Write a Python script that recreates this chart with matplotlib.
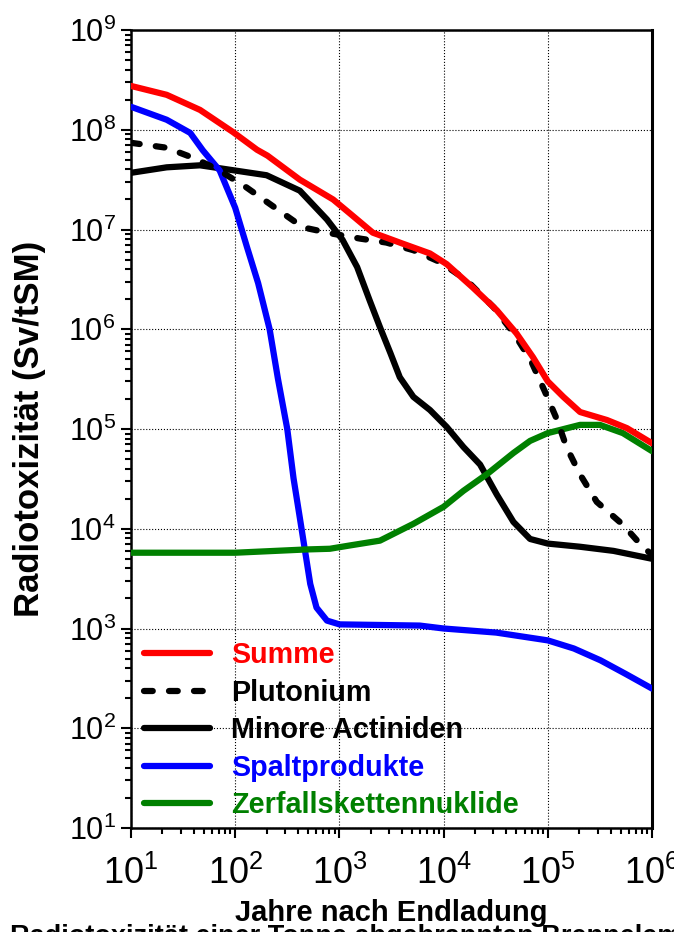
import matplotlib
matplotlib.use("Agg")
import matplotlib.pyplot as plt
from matplotlib import font_manager
from matplotlib.ticker import LogLocator, NullFormatter, FuncFormatter
import numpy as np

# Jahre nach Endladung / Radiotoxizität in Sv pro Tonne Schwermetall
summe_x = [10, 22, 46, 95, 162, 204, 417, 870, 1260, 2090, 4070, 7400, 1.07e4, 1.9e4, 3.24e4,
           5.0e4, 7.2e4, 1e5, 1.41e5, 2.04e5, 3.7e5, 5.75e5, 1e6]
summe_y = [2.75e8, 2.24e8, 1.58e8, 9.5e7, 6.3e7, 5.5e7, 3.16e7, 2.0e7, 1.45e7, 9.3e6, 7.2e6, 5.75e6, 4.5e6, 2.63e6, 1.55e6,
           9.1e5, 5.25e5, 3.0e5, 2.1e5, 1.48e5, 1.23e5, 1.02e5, 7.2e4]

pu_x = [10, 22, 40, 68, 129, 240, 447, 850, 1585, 2820, 5130, 9330, 1.66e4, 3.02e4, 4.79e4,
        6.92e4, 9.33e4, 1.23e5, 1.51e5, 2.04e5, 2.95e5, 5.25e5, 8.13e5, 1e6]
pu_y = [7.4e7, 6.6e7, 5.2e7, 4.0e7, 2.63e7, 1.66e7, 1.05e7, 9.1e6, 8.1e6, 7.4e6, 6.2e6, 4.7e6, 3.1e6, 1.66e6, 8.9e5,
        4.8e5, 2.4e5, 1.23e5, 6.6e4, 3.5e4, 1.86e4, 1.1e4, 6.6e3, 5.5e3]

ma_x = [10, 22, 46, 100, 200, 417, 760, 1070, 1480, 1950, 2450, 3090, 3800, 5130, 7400, 1.07e4,
        1.55e4, 2.24e4, 3.24e4, 4.68e4, 6.76e4, 1e5, 2.04e5, 4.27e5, 1e6]
ma_y = [3.7e7, 4.2e7, 4.4e7, 3.9e7, 3.5e7, 2.45e7, 1.26e7, 7.9e6, 4.2e6, 1.95e6, 1.05e6, 5.75e5, 3.3e5, 2.1e5, 1.55e5, 1.05e5,
        6.6e4, 4.4e4, 2.2e4, 1.17e4, 7.9e3, 7.1e3, 6.6e3, 6.0e3, 5.0e3]

sp_x = [10, 22, 37, 49, 71, 100, 129, 166, 214, 257, 316, 363, 417, 468, 525, 603, 760, 1000,
        5900, 1e4, 3.2e4, 1e5, 1.78e5, 3.2e5, 5.6e5, 1e6]
sp_y = [1.7e8, 1.26e8, 9.3e7, 6.2e7, 3.9e7, 1.65e7, 6.8e6, 2.9e6, 1.0e6, 3.2e5, 1.0e5, 3.2e4, 1.29e4, 6.0e3, 2.8e3, 1.62e3, 1.2e3, 1.1e3,
        1.07e3, 1.0e3, 9.1e2, 7.6e2, 6.3e2, 4.8e2, 3.5e2, 2.5e2]

zk_x = [10, 100, 480, 810, 1260, 2450, 5130, 1e4, 1.55e4, 2.63e4, 4.68e4, 6.76e4, 1e5, 2.04e5, 3.16e5, 5.25e5, 1e6]
zk_y = [5.75e3, 5.75e3, 6.2e3, 6.3e3, 6.8e3, 7.6e3, 1.12e4, 1.66e4, 2.4e4, 3.55e4, 5.75e4, 7.6e4, 9.1e4, 1.1e5, 1.1e5, 9.1e4, 6.0e4]

labels = ["Summe", "Plutonium", "Minore Actiniden", "Spaltprodukte", "Zerfallskettennuklide"]
colors = ["#ff0000", "black", "black", "#0000ff", "#008000"]

installed = {f.name for f in font_manager.fontManager.ttflist}
narrow = ["Liberation Sans Narrow", "Liberation Sans"] if "Liberation Sans Narrow" in installed else ["Liberation Sans"]

plt.rcParams["font.family"] = ["Liberation Sans", "DejaVu Sans"]
plt.rcParams["mathtext.default"] = "regular"

fig = plt.figure(figsize=(6.74, 9.32), dpi=100)
ax = fig.add_axes([131 / 674, 1 - 828 / 932, 521 / 674, 798 / 932])

lw = 4.5
style = dict(lw=lw, solid_capstyle="round", solid_joinstyle="round")
ax.plot(summe_x, summe_y, color=colors[0], label=labels[0], zorder=5, **style)
ax.plot(pu_x, pu_y, color=colors[1], lw=lw, linestyle=(0, (1.4, 2.6)), dash_capstyle="round",
        dash_joinstyle="round", label=labels[1], zorder=4)
ax.plot(ma_x, ma_y, color=colors[2], label=labels[2], zorder=3, **style)
ax.plot(sp_x, sp_y, color=colors[3], label=labels[3], zorder=3, **style)
ax.plot(zk_x, zk_y, color=colors[4], label=labels[4], zorder=3, **style)

ax.set_xscale("log")
ax.set_yscale("log")
ax.set_xlim(10, 1e6)
ax.set_ylim(10, 1e9)

ax.xaxis.set_major_locator(LogLocator(base=10, numticks=20))
ax.yaxis.set_major_locator(LogLocator(base=10, numticks=20))
ax.xaxis.set_minor_locator(LogLocator(base=10, subs=np.arange(2, 10), numticks=100))
ax.yaxis.set_minor_locator(LogLocator(base=10, subs=np.arange(2, 10), numticks=100))
ax.xaxis.set_minor_formatter(NullFormatter())
ax.yaxis.set_minor_formatter(NullFormatter())
pow_fmt = FuncFormatter(lambda v, p: r"$\mathregular{10^{%d}}$" % round(np.log10(v)))
ax.xaxis.set_major_formatter(pow_fmt)
ax.yaxis.set_major_formatter(pow_fmt)

ax.tick_params(which="both", direction="out", width=1.5, top=False, right=False)
ax.tick_params(which="major", length=7)
ax.tick_params(which="minor", length=4)
ax.tick_params(axis="y", labelsize=22, pad=4)
ax.tick_params(axis="x", labelsize=26, pad=13)
for t in ax.get_xticklabels():
    t.set_family(narrow)

for s in ax.spines.values():
    s.set_linewidth(1.8)
ax.spines["right"].set_linewidth(2.2)

ax.grid(True, which="major", linestyle=":", color="black", linewidth=0.8)

ax.set_ylabel("Radiotoxizität (Sv/tSM)", family=narrow, fontweight="bold", fontsize=25, labelpad=16)
ax.set_xlabel("Jahre nach Endladung", family=narrow, fontweight="bold", fontsize=21, labelpad=5)
ax.xaxis.label.set_zorder(10)

leg = ax.legend(loc="upper left", bbox_to_anchor=(-0.003, 0.252), frameon=False,
                prop={"weight": "bold", "size": 20.7}, labelcolor=colors,
                handlelength=2.3, handletextpad=0.75, labelspacing=0.33, borderpad=0)

fig.text(10 / 674, -12 / 932, "Radiotoxizität einer Tonne abgebrannten Brennelemente",
         fontsize=19.5, fontweight="bold", va="baseline", ha="left", zorder=1)

fig.savefig("out.png", dpi=100)
